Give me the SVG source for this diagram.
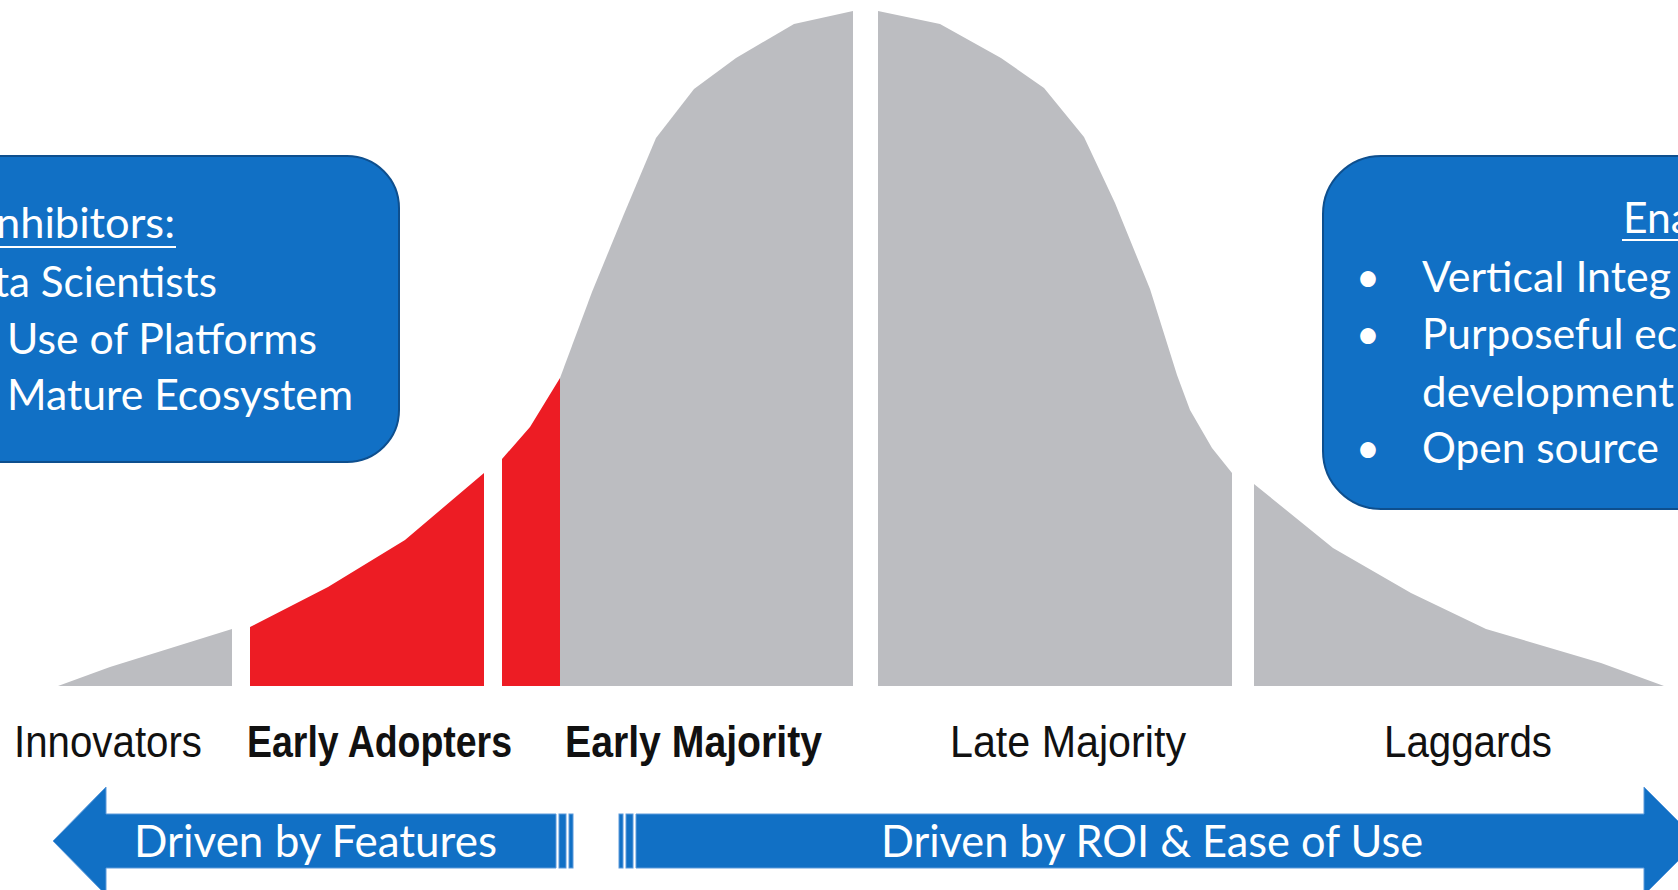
<svg xmlns="http://www.w3.org/2000/svg" width="1678" height="890" viewBox="0 0 1678 890">
<style>
.grey{fill:#BCBDC1}
.red{fill:#ED1C24}
.box{fill:#1170C5;stroke:#0E4F8E;stroke-width:2}
.arrow{fill:#1170C5;stroke:#5C9ADB;stroke-width:1}
.bt{font-family:Lato,"Open Sans",sans-serif;font-size:42px;fill:#FFFFFF}
.at{font-family:Lato,"Open Sans",sans-serif;font-size:44px;fill:#FFFFFF}
.ul{stroke:#FFFFFF;stroke-width:2.2}
.lab{font-family:"Liberation Sans",Arial,sans-serif;font-size:44px;fill:#111111}
.bold{font-weight:bold}
</style>
<rect width="1678" height="890" fill="#FFFFFF"/>
<g id="curve">
  <polygon class="grey" points="58,686 110,667 232,629 232,686"/>
  <polygon class="red" points="250,686 250,627 328,587 405,540 484,473 484,686"/>
  <polygon class="red" points="502,686 502,459 530,427 560,378 560,686"/>
  <polygon class="grey" points="560,686 560,378 592,292 624,214 656,138 694,89 736,58 794,24 853,11 853,686"/>
  <polygon class="grey" points="878,686 878,11 940,24 1001,58 1044,88 1084,137 1115,203 1150,289 1177,375 1190,410 1212,448 1232,473 1232,686"/>
  <polygon class="grey" points="1254,686 1254,484 1333,548 1411,593 1486,629 1601,663 1664,686"/>
</g>
<g id="inhibitors">
  <rect class="box" x="-200" y="156" width="599" height="306" rx="52" ry="52"/>
  <text class="bt" x="-4" y="238" textLength="179" lengthAdjust="spacingAndGlyphs">nhibitors:</text>
  <line class="ul" x1="0" y1="247" x2="176" y2="247"/>
  <text class="bt" x="-6" y="297" textLength="223" lengthAdjust="spacingAndGlyphs">ta Scientists</text>
  <text class="bt" x="7" y="354" textLength="310" lengthAdjust="spacingAndGlyphs">Use of Platforms</text>
  <text class="bt" x="7" y="410" textLength="346" lengthAdjust="spacingAndGlyphs">Mature Ecosystem</text>
</g>
<g id="enablers">
  <rect class="box" x="1323" y="156" width="500" height="353" rx="58" ry="58"/>
  <text class="bt" x="1623" y="233" textLength="69" lengthAdjust="spacingAndGlyphs">Ena</text>
  <line class="ul" x1="1622" y1="240" x2="1678" y2="240"/>
  <text class="bt" x="1368" y="292" text-anchor="middle">•</text>
  <text class="bt" x="1422" y="292" textLength="249" lengthAdjust="spacingAndGlyphs">Vertical Integ</text>
  <text class="bt" x="1368" y="349" text-anchor="middle">•</text>
  <text class="bt" x="1422" y="349" textLength="255" lengthAdjust="spacingAndGlyphs">Purposeful ec</text>
  <text class="bt" x="1422" y="407" textLength="252" lengthAdjust="spacingAndGlyphs">development</text>
  <text class="bt" x="1368" y="463" text-anchor="middle">•</text>
  <text class="bt" x="1422" y="463" textLength="237" lengthAdjust="spacingAndGlyphs">Open source</text>
</g>
<g id="stage-labels">
  <text id="innovators" class="lab" x="14" y="757" textLength="188" lengthAdjust="spacingAndGlyphs">Innovators</text>
  <text id="early-adopters" class="lab bold" x="247" y="757" textLength="265" lengthAdjust="spacingAndGlyphs">Early Adopters</text>
  <text id="early-majority" class="lab bold" x="565" y="757" textLength="257" lengthAdjust="spacingAndGlyphs">Early Majority</text>
  <text id="late-majority" class="lab" x="950" y="757" textLength="236" lengthAdjust="spacingAndGlyphs">Late Majority</text>
  <text id="laggards" class="lab" x="1384" y="757" textLength="168" lengthAdjust="spacingAndGlyphs">Laggards</text>
</g>
<g id="connectors">
  <g id="arrow-features">
    <polygon class="arrow" points="53,841 106,787 106,814 556,814 556,868 106,868 106,895"/>
    <rect class="arrow" x="559" y="814" width="7" height="54"/>
    <rect class="arrow" x="569" y="814" width="4" height="54"/>
    <text class="at" x="134" y="857" textLength="363" lengthAdjust="spacingAndGlyphs">Driven by Features</text>
  </g>
  <g id="arrow-roi">
    <rect class="arrow" x="619" y="814" width="4" height="54"/>
    <rect class="arrow" x="626" y="814" width="7" height="54"/>
    <polygon class="arrow" points="636,814 1644,814 1644,787 1698,841 1644,895 1644,868 636,868"/>
    <text class="at" x="881" y="857" textLength="542" lengthAdjust="spacingAndGlyphs">Driven by ROI &amp; Ease of Use</text>
  </g>
</g>
</svg>
